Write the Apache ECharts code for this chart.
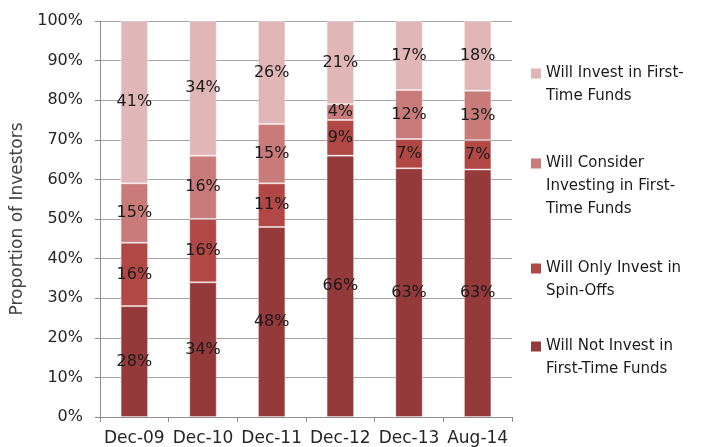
<!DOCTYPE html>
<html>
<head>
<meta charset="utf-8">
<script src="https://cdn.jsdelivr.net/npm/echarts@6/dist/echarts.min.js"></script>
<style>
  html, body { margin: 0; padding: 0; background: #fff; }
  #chart { width: 710px; height: 447px; }
</style>
</head>
<body>
<div id="chart"></div>
<script>
// Survey periods
const categories = ['Dec-09', 'Dec-10', 'Dec-11', 'Dec-12', 'Dec-13', 'Aug-14'];

// Share of investors in each group (%), bottom to top of each stack;
// labels show these rounded to whole percentages
const willNotInvest = [28, 34, 48, 66, 62.8, 62.5];
const onlySpinOffs = [16, 16, 11, 9, 7.4, 7.4];
const willConsider = [15, 16, 15, 4, 12.4, 12.5];
const willInvest = [41, 34, 26, 21, 17.4, 17.6];

const seriesNames = [
  'Will Not Invest in\nFirst-Time Funds',
  'Will Only Invest in\nSpin-Offs',
  'Will Consider\nInvesting in First-\nTime Funds',
  'Will Invest in First-\nTime Funds'
];
const seriesData = [willNotInvest, onlySpinOffs, willConsider, willInvest];
const colors = ['#953a3a', '#b14846', '#c97b7a', '#e0b6b6'];

const FONT = 'DejaVu Sans';

const chart = echarts.init(document.getElementById('chart'), null, { renderer: 'canvas' });

// Legend squares drawn as rich-text boxes so they line up with the first text line
const legendRich = {
  t: { fontFamily: FONT, fontSize: 15, color: '#1a1a1a', lineHeight: 23 },
  sp: { width: 15 },
  gap: { width: 5 }
};
colors.forEach((c, i) => {
  legendRich['sq' + i] = { width: 10, height: 10, backgroundColor: c };
});

function legendItem(name, top) {
  const idx = seriesNames.indexOf(name);
  return {
    show: true,
    orient: 'vertical',
    left: 526,
    top: top,
    padding: 0,
    data: [name],
    icon: 'none',
    itemWidth: 0,
    itemHeight: 10,
    itemGap: 0,
    selectedMode: false,
    formatter: function (n) {
      const lines = n.split('\n');
      return lines.map((l, k) => (k === 0 ? '{sq' + idx + '|}{gap|}' : '{sp|}') + '{t|' + l + '}').join('\n');
    },
    textStyle: { rich: legendRich }
  };
}

const option = {
  animation: false,
  color: colors,
  grid: { left: 100, right: 198, top: 21, bottom: 30, containLabel: false },
  legend: [
    legendItem(seriesNames[3], 66),
    legendItem(seriesNames[2], 156),
    legendItem(seriesNames[1], 261),
    legendItem(seriesNames[0], 339)
  ],
  xAxis: {
    type: 'category',
    data: categories,
    boundaryGap: true,
    axisLine: { show: true, lineStyle: { color: '#8c8c8c', width: 1 } },
    axisTick: { show: true, alignWithLabel: false, length: 5, inside: false, lineStyle: { color: '#8c8c8c' } },
    axisLabel: { fontFamily: FONT, fontSize: 17, color: '#262626', margin: 13, interval: 0 },
    splitLine: { show: false }
  },
  yAxis: {
    type: 'value',
    min: 0,
    max: 100,
    interval: 10,
    name: 'Proportion of Investors',
    nameLocation: 'middle',
    nameGap: 74,
    nameTextStyle: { fontFamily: FONT, fontSize: 17, color: '#404040' },
    axisLine: { show: true, lineStyle: { color: '#8c8c8c', width: 1 } },
    axisTick: { show: true, length: 5, lineStyle: { color: '#8c8c8c' } },
    axisLabel: { fontFamily: FONT, fontSize: 16, color: '#262626', margin: 17, formatter: '{value}%' },
    splitLine: { show: true, lineStyle: { color: '#a6a6a6', width: 1 } }
  },
  series: seriesNames.map((name, i) => ({
    name: name,
    type: 'bar',
    stack: 'total',
    barWidth: '40%',
    data: seriesData[i],
    itemStyle: { color: colors[i], borderColor: 'rgba(255,255,255,0.35)', borderWidth: 1 },
    label: {
      show: true,
      position: 'inside',
      formatter: p => Math.round(p.value) + '%',
      fontFamily: FONT,
      fontSize: 16,
      color: '#1a1a1a'
    },
    emphasis: { disabled: true }
  }))
};

chart.setOption(option);
</script>
</body>
</html>
